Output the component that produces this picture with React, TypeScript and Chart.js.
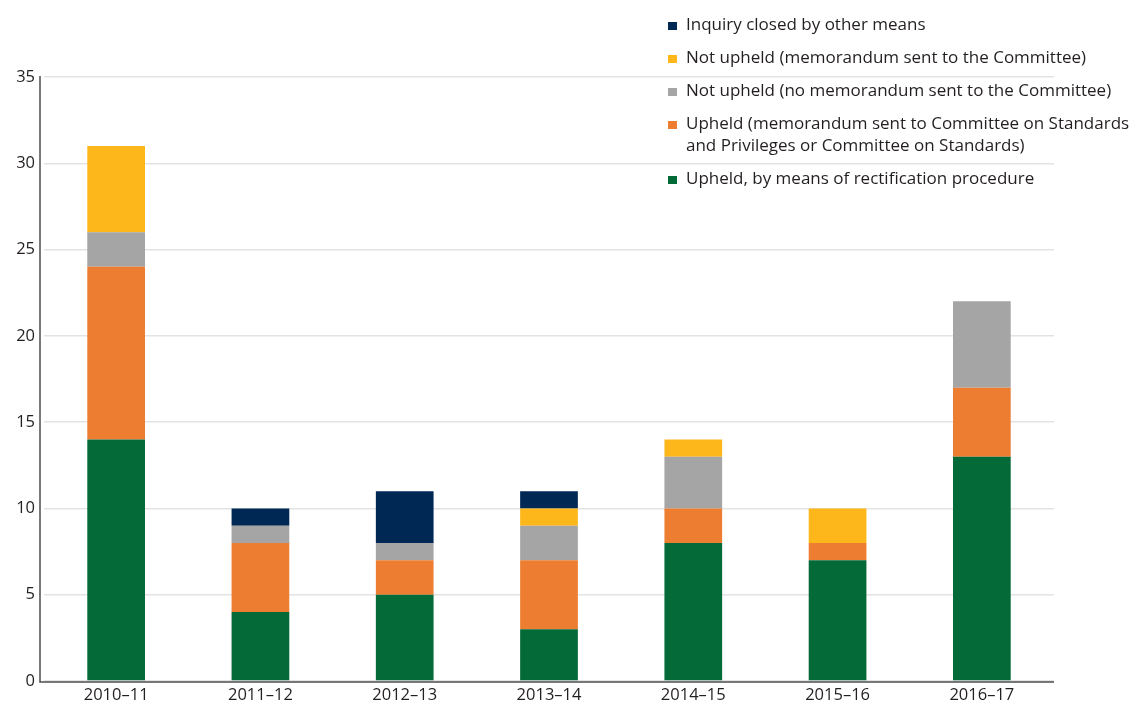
import React, { useEffect, useRef } from "react";
import { Chart, registerables } from "chart.js";

Chart.register(...registerables);

const categories = ["2010–11", "2011–12", "2012–13", "2013–14", "2014–15", "2015–16", "2016–17"];
const upheldRectification = [14, 4, 5, 3, 8, 7, 13];
const upheldMemorandum = [10, 4, 2, 4, 2, 1, 4];
const notUpheldNoMemo = [2, 1, 1, 2, 3, 0, 5];
const notUpheldMemo = [5, 0, 0, 1, 1, 2, 0];
const inquiryClosed = [0, 1, 3, 1, 0, 0, 0];
const yTicks = [0, 5, 10, 15, 20, 25, 30, 35];

const FONT = "'Open Sans', 'Noto Sans', sans-serif";
const TEXT = "#231f20";

const legendPlugin = {
  id: "customLegend",
  afterDraw(chart: any) {
    const ctx = chart.ctx;
    const ds = chart.data.datasets.slice().reverse();
    ctx.save();
    ctx.font = `17px ${FONT}`;
    ctx.textBaseline = "middle";
    let y = 25;
    ds.forEach((d: any) => {
      const lines: string[] = Array.isArray(d.label) ? d.label : [d.label];
      ctx.fillStyle = d.backgroundColor;
      ctx.fillRect(668, y - 3, 9, 8);
      ctx.fillStyle = TEXT;
      lines.forEach((ln, i) => ctx.fillText(ln, 686, y + i * 22));
      y += 33 + (lines.length - 1) * 22;
    });
    ctx.restore();
  },
};

const axisPlugin = {
  id: "axisLines",
  afterDatasetsDraw(chart: any) {
    const { ctx, chartArea } = chart;
    ctx.save();
    ctx.strokeStyle = "#4d4d4d";
    ctx.lineWidth = 1.5;
    ctx.beginPath();
    ctx.moveTo(40, chartArea.top - 1);
    ctx.lineTo(40, chartArea.bottom + 1);
    ctx.lineTo(chartArea.right, chartArea.bottom + 1);
    ctx.stroke();
    ctx.restore();
  },
};

export default function App() {
  const ref = useRef<HTMLCanvasElement>(null);
  useEffect(() => {
    const mk = (label: any, data: number[], color: string) => ({
      label,
      data,
      backgroundColor: color,
      borderWidth: 0,
      barPercentage: 0.4,
      categoryPercentage: 1,
    });
    const chart = new Chart(ref.current!, {
      type: "bar",
      data: {
        labels: categories,
        datasets: [
          mk("Upheld, by means of rectification procedure", upheldRectification, "#046a38"),
          mk(
            ["Upheld (memorandum sent to Committee on Standards", "and Privileges or Committee on Standards)"],
            upheldMemorandum,
            "#ed7d31"
          ),
          mk("Not upheld (no memorandum sent to the Committee)", notUpheldNoMemo, "#a5a5a5"),
          mk("Not upheld (memorandum sent to the Committee)", notUpheldMemo, "#fdb71a"),
          mk("Inquiry closed by other means", inquiryClosed, "#002855"),
        ],
      },
      options: {
        responsive: false,
        animation: false,
        layout: { padding: { top: 77, right: 84, bottom: 0, left: 0 } },
        plugins: { legend: { display: false }, tooltip: { enabled: false } },
        scales: {
          x: {
            stacked: true,
            grid: { display: false, drawTicks: false },
            border: { display: false },
            ticks: { color: TEXT, font: { family: FONT, size: 16.5 }, padding: 4, maxRotation: 0 },
            afterFit: (s: any) => {
              s.height = 24;
            },
          },
          y: {
            stacked: true,
            min: 0,
            max: 35,
            afterBuildTicks: (s: any) => {
              s.ticks = yTicks.map((v) => ({ value: v }));
            },
            grid: { color: "#e3e3e3", lineWidth: 1.5, drawTicks: false },
            border: { display: false },
            ticks: { color: TEXT, font: { family: FONT, size: 16.5 }, padding: 9 },
            afterFit: (s: any) => {
              s.width = 44;
            },
          },
        },
      },
      plugins: [legendPlugin, axisPlugin],
    });
    return () => chart.destroy();
  }, []);
  return (
    <div style={{ position: "fixed", left: 0, top: 0, width: 1138, height: 705, background: "#fff" }}>
      <canvas ref={ref} width={1138} height={705} />
    </div>
  );
}
